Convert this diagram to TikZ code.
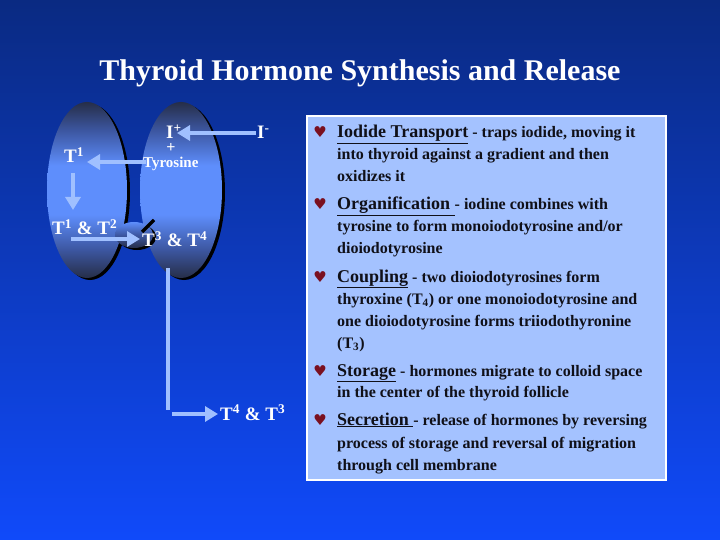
\documentclass[tikz,border=0pt]{standalone}
\usepackage{fontspec}
\setmainfont{Liberation Serif}
\newfontfamily\heartfont{DejaVu Sans}
\usetikzlibrary{arrows.meta}
\definecolor{bgtop}{RGB}{10,42,130}
\definecolor{bgbot}{RGB}{16,74,250}
\definecolor{arrowc}{RGB}{160,192,255}
\definecolor{boxfill}{RGB}{164,194,255}
\definecolor{heartc}{RGB}{122,16,32}
\definecolor{lobedark}{RGB}{38,46,72}
\definecolor{lobemid}{RGB}{94,142,252}
\definecolor{lobelow}{RGB}{60,86,160}
\definecolor{textc}{RGB}{16,16,24}
\pgfdeclareverticalshading{lobeshade}{100bp}{color(0bp)=(lobedark); color(25bp)=(lobedark); color(33bp)=(lobelow); color(43bp)=(lobemid); color(57bp)=(lobemid); color(67bp)=(lobelow); color(75bp)=(lobedark); color(100bp)=(lobedark)}
\pgfdeclareverticalshading{isthshade}{100bp}{color(0bp)=(lobedark); color(25bp)=(lobedark); color(50bp)=(lobelow); color(75bp)=(lobemid); color(100bp)=(lobemid)}
\newcommand\myhead[1]{\underline{\fontsize{18}{18}\selectfont #1}}
\begin{document}
\begin{tikzpicture}[x=1pt,y=-1pt,
  lbl/.style={text=white,font=\bfseries\fontsize{19}{19}\selectfont,inner sep=0pt,anchor=base west},
  smalllbl/.style={text=white,font=\bfseries\fontsize{15}{15}\selectfont,inner sep=0pt,anchor=base west},
  arr/.style={draw=arrowc,line width=4.5pt,-{Triangle[length=13pt,width=15pt]}},
  plainline/.style={draw=arrowc,line width=4.5pt},
  lobe/.style={shading=lobeshade},
  bodytxt/.style={text=textc,font=\bfseries\fontsize{16}{16}\selectfont,inner sep=0pt,anchor=base west},
  heartbul/.style={text=heartc,font=\heartfont\fontsize{15}{15}\selectfont,inner sep=0pt,anchor=base}
  ]
\useasboundingbox (0,0) rectangle (720,540);
\shade[top color=bgtop,bottom color=bgbot] (0,0) rectangle (720,540);

% title
\node[text=white,font=\bfseries\fontsize{30}{30}\selectfont,inner sep=0pt,anchor=base] (title) at (360,81) {Thyroid Hormone Synthesis and Release};

% lobes
\fill[black] (90,192) ellipse [x radius=40,y radius=88];
\shade[lobe] (87,190) ellipse [x radius=40,y radius=88];
\fill[black] (184,192) ellipse [x radius=41,y radius=88];
\shade[lobe] (181,190) ellipse [x radius=41,y radius=88];
% isthmus
\fill[black] (137,237) ellipse [x radius=19,y radius=13];
\shade[shading=isthshade] (134,235) ellipse [x radius=19,y radius=13];
\draw[black,line width=3.5pt] (142,232) -- (154,220);

% labels
\node[lbl] (Iplus) at (166,139) {I\textsuperscript{+}};
\node[lbl] (Iminus) at (257,139) {I\textsuperscript{-}};
\node[text=white,font=\bfseries\fontsize{16}{16}\selectfont,inner sep=0pt,anchor=base] (plus) at (171,153) {+};
\node[smalllbl] (tyr) at (143,168) {Tyrosine};
\node[lbl] (T1) at (64,163) {T\textsuperscript{1}};
\node[lbl] (T12) at (52,235) {T\textsuperscript{1} \& T\textsuperscript{2}};
\node[lbl] (T34) at (142,247) {T\textsuperscript{3} \& T\textsuperscript{4}};
\node[lbl] (T43) at (220,420) {T\textsuperscript{4} \& T\textsuperscript{3}};

% connectors
\coordinate (aIm) at (256,133);
\coordinate (aIp) at (177,133);
\draw[arr] (aIm) -- (aIp);
\coordinate (aTy) at (146,162);
\coordinate (aT1) at (87,162);
\draw[arr] (aTy) -- (aT1);
\coordinate (dT1) at (73,173);
\coordinate (dT12) at (73,210);
\draw[arr] (dT1) -- (dT12);
\coordinate (hT12) at (71,239);
\coordinate (hT34) at (140,239);
\draw[arr] (hT12) -- (hT34);
\coordinate (vTop) at (168,268);
\coordinate (vBot) at (168,410);
\draw[plainline] (vTop) -- (vBot);
\coordinate (hStart) at (172,414);
\coordinate (hEnd) at (218,414);
\draw[arr] (hStart) -- (hEnd);

% text box
\draw[draw=white,line width=1.5pt,fill=boxfill] (307,116) rectangle (666,480);

\foreach \y in {138,210,282,376,425} {
  \node[heartbul] at (320,\y) {♥};
}
\node[bodytxt] (l1) at (337,138) {\myhead{Iodide Transport} - traps iodide, moving it};
\node[bodytxt] (l2) at (337,160) {into thyroid against a gradient and then};
\node[bodytxt] (l3) at (337,182) {oxidizes it};
\node[bodytxt] (l4) at (337,210) {\myhead{Organification }- iodine combines with};
\node[bodytxt] (l5) at (337,232) {tyrosine to form monoiodotyrosine and/or};
\node[bodytxt] (l6) at (337,253) {dioiodotyrosine};
\node[bodytxt] (l7) at (337,282) {\myhead{Coupling} - two dioiodotyrosines form};
\node[bodytxt] (l8) at (337,304) {thyroxine (T\textsubscript{4}) or one monoiodotyrosine and};
\node[bodytxt] (l9) at (337,326) {one dioiodotyrosine forms triiodothyronine};
\node[bodytxt] (l10) at (337,348) {(T\textsubscript{3})};
\node[bodytxt] (l11) at (337,376) {\myhead{Storage} - hormones migrate to colloid space};
\node[bodytxt] (l12) at (337,397) {in the center of the thyroid follicle};
\node[bodytxt] (l13) at (337,425) {\myhead{Secretion }- release of hormones by reversing};
\node[bodytxt] (l14) at (337,448) {process of storage and reversal of migration};
\node[bodytxt] (l15) at (337,470) {through cell membrane};
\end{tikzpicture}
\end{document}
